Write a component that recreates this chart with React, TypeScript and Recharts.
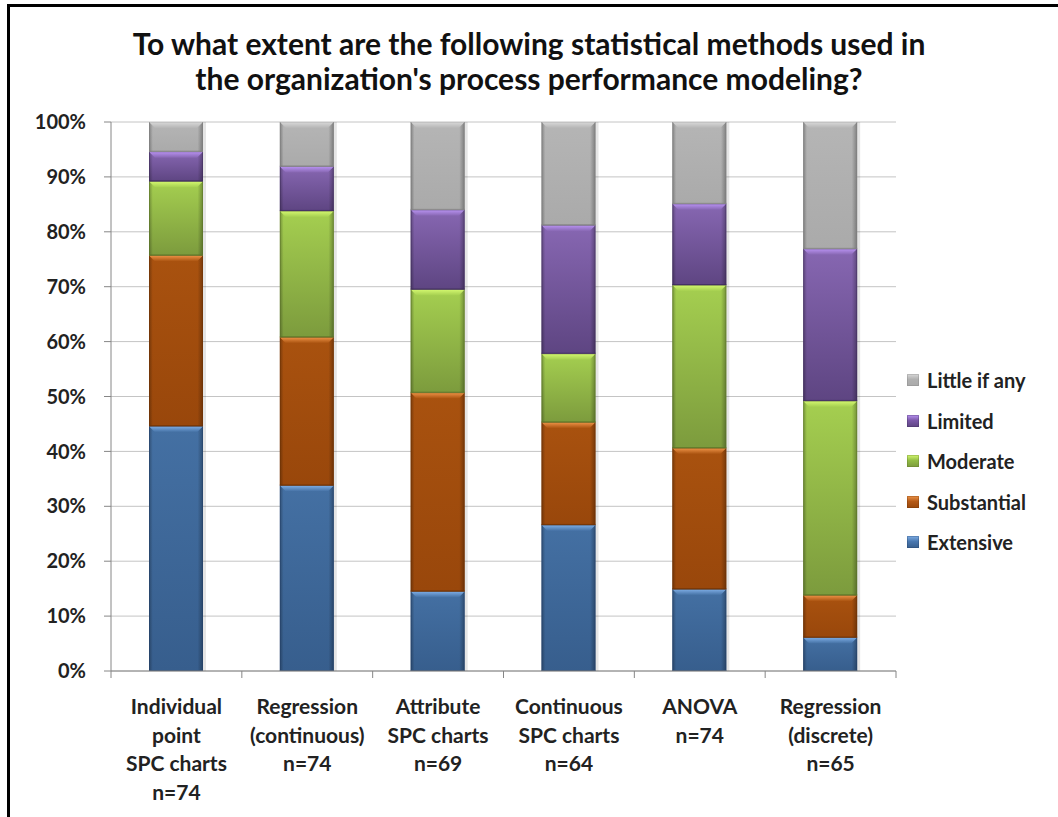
import React from 'react';
import { BarChart, Bar, XAxis, YAxis, CartesianGrid, Legend } from 'recharts';

// Survey categories (one bar each), drawn as multi-line axis labels
const categoryLines: string[][] = [
  ['Individual', 'point', 'SPC charts', 'n=74'],
  ['Regression', '(continuous)', 'n=74'],
  ['Attribute', 'SPC charts', 'n=69'],
  ['Continuous', 'SPC charts', 'n=64'],
  ['ANOVA', 'n=74'],
  ['Regression', '(discrete)', 'n=65'],
];

// Share of respondents (%) per response level
const extensive = [44.6, 33.8, 14.5, 26.6, 14.9, 6.1];
const substantial = [31.1, 27.0, 36.2, 18.7, 25.7, 7.7];
const moderate = [13.5, 23.0, 18.8, 12.5, 29.7, 35.4];
const limited = [5.4, 8.1, 14.5, 23.4, 14.8, 27.7];
const littleIfAny = [5.4, 8.1, 16.0, 18.8, 14.9, 23.1];

const yTicks = [0, 10, 20, 30, 40, 50, 60, 70, 80, 90, 100];

const data = categoryLines.map((lines, i) => ({
  name: lines.join(' '),
  lines,
  extensive: extensive[i],
  substantial: substantial[i],
  moderate: moderate[i],
  limited: limited[i],
  littleIfAny: littleIfAny[i],
}));

type Tone = { id: string; key: string; label: string; top: string; bottom: string; bevel: string; edge: string; swatch: string };

const tones: Tone[] = [
  { id: 'ext', key: 'extensive', label: 'Extensive', top: '#4470a3', bottom: '#375e8d', bevel: '#7eaee6', edge: '#23416a', swatch: '#4a78b0' },
  { id: 'sub', key: 'substantial', label: 'Substantial', top: '#a9520f', bottom: '#99470b', bevel: '#ee9448', edge: '#6e3205', swatch: '#b55a18' },
  { id: 'mod', key: 'moderate', label: 'Moderate', top: '#a5cf50', bottom: '#7c9b3d', bevel: '#d4f870', edge: '#5c7428', swatch: '#93bd45' },
  { id: 'lim', key: 'limited', label: 'Limited', top: '#8767b2', bottom: '#5e4582', bevel: '#b993f2', edge: '#3f2c5c', swatch: '#7b58a8' },
  { id: 'lit', key: 'littleIfAny', label: 'Little if any', top: '#b5b5b5', bottom: '#aaaaaa', bevel: '#d9d9d9', edge: '#808080', swatch: '#b0b0b0' },
];

const FONT = 'Lato, "Open Sans", sans-serif';

function makeShape(t: Tone) {
  return (props: any) => {
    const { x, y, width: w, height: h } = props;
    if (!h || h <= 0) return <g />;
    const b = Math.min(6, h / 2);
    return (
      <g>
        <rect x={x + w} y={y} width={3} height={h} fill="rgba(0,0,0,0.10)" />
        <rect x={x} y={y} width={w} height={h} fill={`url(#v-${t.id})`} />
        <rect x={x} y={y} width={w} height={h} fill="url(#edgeShade)" />
        <polygon
          points={`${x},${y} ${x + w},${y} ${x + w - b},${y + b} ${x + b},${y + b}`}
          fill={`url(#b-${t.id})`}
        />
        <line x1={x} y1={y + h - 0.5} x2={x + w} y2={y + h - 0.5} stroke={t.edge} strokeOpacity={0.7} />
        <rect x={x + 0.5} y={y} width={w - 1} height={h} fill="none" stroke={t.edge} strokeOpacity={0.45} />
      </g>
    );
  };
}

const CategoryTick = (props: any) => {
  const { x, y, payload, index } = props;
  const lines = categoryLines[index] || [];
  const half = payload && payload.offset ? payload.offset : 65.4;
  const isLast = index === categoryLines.length - 1;
  return (
    <g>
      <line x1={x - half} y1={y - 8} x2={x - half} y2={y - 1} stroke="#868686" />
      {isLast && <line x1={x + half} y1={y - 8} x2={x + half} y2={y - 1} stroke="#868686" />}
      <text x={x} y={y + 35} textAnchor="middle" fontFamily={FONT} fontWeight={700} fontSize={21} fill="#222">
        {lines.map((l, i) => (
          <tspan key={i} x={x} dy={i === 0 ? 0 : 28.7}>
            {l}
          </tspan>
        ))}
      </text>
    </g>
  );
};

const LegendBox = () => (
  <div style={{ fontFamily: FONT, fontWeight: 700, fontSize: 20, color: '#222' }}>
    {[...tones].reverse().map((t) => (
      <div key={t.id} style={{ display: 'flex', alignItems: 'center', height: 40.5 }}>
        <span
          style={{
            display: 'inline-block',
            width: 12,
            height: 12,
            marginRight: 8,
            background: `linear-gradient(${t.bevel}, ${t.swatch} 45%, ${t.bottom})`,
            boxShadow: `inset 0 0 0 1px ${t.edge}55`,
          }}
        />
        <span>{t.label}</span>
      </div>
    ))}
  </div>
);

export default function App() {
  return (
    <div style={{ position: 'absolute', left: 0, top: 0, width: 1058, height: 817, background: '#fff' }}>
      <div
        style={{
          position: 'absolute',
          left: 7,
          top: 4,
          right: 0,
          bottom: 0,
          borderLeft: '3px solid #000',
          borderTop: '3px solid #000',
        }}
      />
      <div
        style={{
          position: 'absolute',
          left: 0,
          width: 1058,
          top: 26,
          textAlign: 'center',
          fontFamily: FONT,
          fontWeight: 700,
          fontSize: 30,
          lineHeight: '35px',
          color: '#111',
        }}
      >
        To what extent are the following statistical methods used in
        <br />
        the organization's process performance modeling?
      </div>
      <div style={{ position: 'absolute', left: 0, top: 0 }}>
        <BarChart
          width={1058}
          height={817}
          data={data}
          margin={{ top: 122, right: 162, bottom: 0, left: 51 }}
          barSize={54}
        >
          <defs>
            {tones.map((t) => (
              <linearGradient key={`v-${t.id}`} id={`v-${t.id}`} x1="0" y1="0" x2="0" y2="1">
                <stop offset="0%" stopColor={t.top} />
                <stop offset="100%" stopColor={t.bottom} />
              </linearGradient>
            ))}
            {tones.map((t) => (
              <linearGradient key={`b-${t.id}`} id={`b-${t.id}`} x1="0" y1="0" x2="0" y2="1">
                <stop offset="0%" stopColor={t.bevel} />
                <stop offset="100%" stopColor={t.top} />
              </linearGradient>
            ))}
            <linearGradient id="edgeShade" x1="0" y1="0" x2="1" y2="0">
              <stop offset="0%" stopColor="#000" stopOpacity={0.28} />
              <stop offset="7%" stopColor="#000" stopOpacity={0} />
              <stop offset="90%" stopColor="#000" stopOpacity={0} />
              <stop offset="100%" stopColor="#000" stopOpacity={0.3} />
            </linearGradient>
          </defs>
          <CartesianGrid vertical={false} stroke="#c4c4c4" strokeWidth={1} />
          <XAxis
            dataKey="name"
            height={146}
            interval={0}
            tickLine={false}
            axisLine={{ stroke: '#868686' }}
            tick={<CategoryTick />}
          />
          <YAxis
            width={60}
            domain={[0, 100]}
            ticks={yTicks}
            allowDataOverflow
            tickFormatter={(v: number) => `${v}%`}
            tickSize={7}
            tickMargin={18}
            tickLine={{ stroke: '#868686' }}
            axisLine={{ stroke: '#868686' }}
            tick={{ fontFamily: FONT, fontWeight: 700, fontSize: 20, fill: '#222' }}
          />
          {tones.map((t) => (
            <Bar
              key={t.key}
              dataKey={t.key}
              name={t.label}
              stackId="s"
              fill={t.swatch}
              isAnimationActive={false}
              shape={makeShape(t)}
            />
          ))}
          <Legend
            layout="vertical"
            align="center"
            verticalAlign="middle"
            content={<LegendBox />}
            wrapperStyle={{ left: 907, top: 360, width: 151, height: 205 }}
          />
        </BarChart>
      </div>
    </div>
  );
}
